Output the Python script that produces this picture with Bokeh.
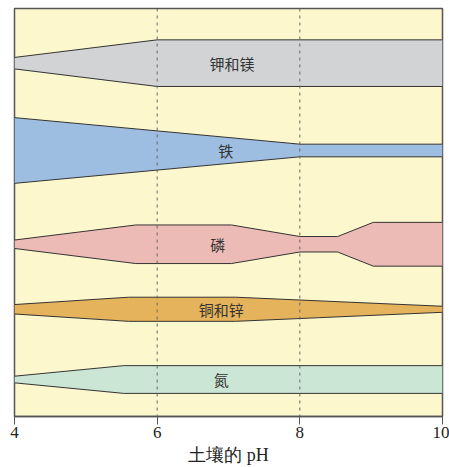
from bokeh.plotting import figure
from bokeh.models import Range1d, FixedTicker, Span, Label
from bokeh.embed import file_html
from bokeh.resources import INLINE

# Nutrient availability bands (pH breakpoints, half-width of band, band centre)
names = ["钾和镁", "铁", "磷", "铜和锌", "氮"]
centers = [351.6, 264.7, 171.4, 106.7, 36.8]
ph_points = [
    [4, 6, 10],
    [4, 8, 10],
    [4, 5.7, 7.04, 8.0, 8.53, 9.03, 10],
    [4, 5.6, 7.1, 10],
    [4, 5.53, 10],
]
half_widths = [
    [5.7, 23.2, 23.2],
    [32.7, 6.3, 6.3],
    [4.2, 19.2, 19.2, 7.7, 7.7, 21.8, 21.8],
    [4.7, 12.0, 12.0, 3.0],
    [3.3, 13.8, 13.8],
]
colors = ["#D2D3D5", "#9DBDE1", "#EDBBB6", "#E5B35C", "#CCE6D6"]
label_ph = [7.05, 6.96, 6.85, 6.9, 6.9]
x_ticks = [4, 6, 8, 10]
ref_lines = [6, 8]
x_title = "土壤的 pH"

p = figure(width=449, height=467, output_backend="svg", toolbar_location=None,
           x_range=Range1d(4, 10), y_range=Range1d(0, 406),
           min_border_left=14, min_border_right=7, min_border_top=8, min_border_bottom=0)
p.background_fill_color = "#FCF7CC"
p.border_fill_color = "white"
p.outline_line_color = "#555555"
p.outline_line_width = 1.5
p.xgrid.visible = False
p.ygrid.visible = False
p.yaxis.visible = False

for xs, hw, c, col in zip(ph_points, half_widths, centers, colors):
    upper = [c + h for h in hw]
    lower = [c - h for h in hw]
    px = list(xs) + list(reversed(xs))
    py = upper + list(reversed(lower))
    p.patch(px, py, fill_color=col, line_color=None)
    p.line(xs, upper, line_color="#333333", line_width=1)
    p.line(xs, lower, line_color="#333333", line_width=1)

for xv in ref_lines:
    p.add_layout(Span(location=xv, dimension="height", line_color="#666666",
                      line_dash="3 4", line_width=1, level="overlay"))

for n, c, lx in zip(names, centers, label_ph):
    p.add_layout(Label(x=lx, y=c, text=n, text_align="center", text_baseline="middle",
                       text_font="Noto Sans CJK SC", text_font_size="15px",
                       text_color="#333333"))

ax = p.xaxis[0]
ax.ticker = FixedTicker(ticks=x_ticks)
ax.minor_tick_line_color = None
ax.major_tick_out = 8
ax.major_tick_in = 0
ax.major_tick_line_color = "#555555"
ax.axis_line_color = "#555555"
ax.axis_line_width = 1.5
ax.major_label_text_font = "Liberation Serif"
ax.major_label_text_font_size = "17px"
ax.major_label_text_color = "#222222"
ax.major_label_standoff = 2
ax.axis_label = x_title
ax.axis_label_text_font = "Liberation Serif"
ax.axis_label_text_font_style = "normal"
ax.axis_label_text_font_size = "18px"
ax.axis_label_text_color = "#222222"
ax.axis_label_standoff = 4

open("out.html", "w").write(file_html(p, INLINE))
